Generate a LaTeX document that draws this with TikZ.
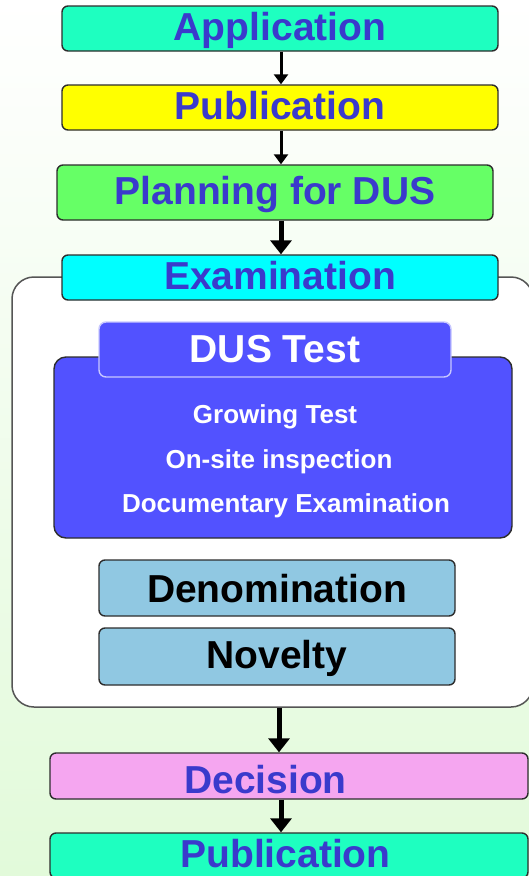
\documentclass[tikz,border=0pt]{standalone}
\usepackage{fontspec}
\setmainfont{Liberation Sans}
\usetikzlibrary{arrows.meta}
\definecolor{txtblue}{RGB}{58,58,204}
\definecolor{aqua}{RGB}{30,255,192}
\definecolor{ylw}{RGB}{255,255,0}
\definecolor{grn}{RGB}{102,255,102}
\definecolor{cyn}{RGB}{0,255,255}
\definecolor{dusblue}{RGB}{82,82,255}
\definecolor{tabline}{RGB}{200,200,255}
\definecolor{ltblue}{RGB}{144,200,226}
\definecolor{pnk}{RGB}{245,166,240}
\definecolor{bggreen}{RGB}{226,250,218}
\definecolor{boxline}{RGB}{45,45,45}
\definecolor{frameline}{RGB}{85,85,85}
\begin{document}
\begin{tikzpicture}[x=1pt,y=-1pt,
  box/.style={draw=boxline, line width=1.4pt, rounded corners=6pt, inner sep=0pt,
    font=\bfseries\fontsize{39}{40}\selectfont, text height=28pt, text depth=4pt},
  bluetext/.style={text=txtblue},
  item/.style={anchor=base, inner sep=0pt, text=white, font=\bfseries\fontsize{26}{28}\selectfont},
  arr/.style={line width=3pt, -{Triangle[length=10pt,width=14pt]}},
  bigarr/.style={line width=5pt, -{Triangle[length=14pt,width=21pt]}}]
\useasboundingbox (0,0) rectangle (529,876);
\clip (0,0) rectangle (529,876);
\shade[top color=white, bottom color=bggreen] (0,0) rectangle (529,876);
% outer examination frame
\node[draw=frameline, fill=white, line width=1.5pt, rounded corners=22pt,
  minimum width=521pt, minimum height=430pt, inner sep=0pt] (frame) at (272.5,492) {};
% top chain
\node[box, bluetext, fill=aqua, minimum width=436pt, minimum height=45pt] (app) at (280,28.5) {Application};
\node[box, bluetext, fill=ylw, minimum width=436pt, minimum height=45pt] (pub) at (280,107.5) {Publication};
\node[box, bluetext, fill=grn, minimum width=436pt, minimum height=55pt] (plan) at (275,192.5) {Planning for DUS};
\node[box, bluetext, fill=cyn, minimum width=436pt, minimum height=45pt] (exam) at (280,277.5) {Examination};
% DUS block
\node[draw=boxline, fill=dusblue, line width=1.4pt, rounded corners=12pt, inner sep=0pt,
  minimum width=458pt, minimum height=181pt] (dus) at (283,447.5) {};
\node[draw=tabline, fill=dusblue, line width=1.4pt, rounded corners=7pt, inner sep=0pt,
  text=white, font=\bfseries\fontsize{39}{40}\selectfont, text height=28pt, text depth=3pt,
  minimum width=352pt, minimum height=55pt] (tab) at (275,349.5) {DUS Test};
\node[item] (grow) at (275,423) {Growing Test};
\node[item] (site) at (279,468) {On-site inspection};
\node[item] (doc) at (286,512) {Documentary Examination};
% criteria
\node[box, fill=ltblue, minimum width=356pt, minimum height=56pt, text depth=0pt] (deno) at (277,588) {Denomination};
\node[box, fill=ltblue, minimum width=356pt, minimum height=57pt, text depth=4pt] (nov) at (277,656.5) {Novelty};
% bottom chain
\node[box, bluetext, fill=pnk, minimum width=478pt, minimum height=46pt, text height=34pt, text depth=0pt] (dec) at (289,776) {Decision\hspace*{47pt}};
\node[box, bluetext, fill=aqua, minimum width=478pt, minimum height=45pt] (pub2) at (289,855.5) {Publication\hspace*{7pt}};
% arrows
\draw[arr] ([xshift=1pt]app.south) -- ([xshift=1pt]pub.north);
\draw[arr] ([xshift=1pt]pub.south) -- ([xshift=1pt]pub.south |- plan.north);
\draw[bigarr] ([xshift=6pt]plan.south) -- ([xshift=1pt]exam.north);
\draw[bigarr] ([xshift=6.5pt]frame.south) -- ([xshift=-10pt]dec.north);
\draw[bigarr] ([xshift=-8pt]dec.south) -- ([xshift=-8pt]pub2.north);
\end{tikzpicture}
\end{document}
